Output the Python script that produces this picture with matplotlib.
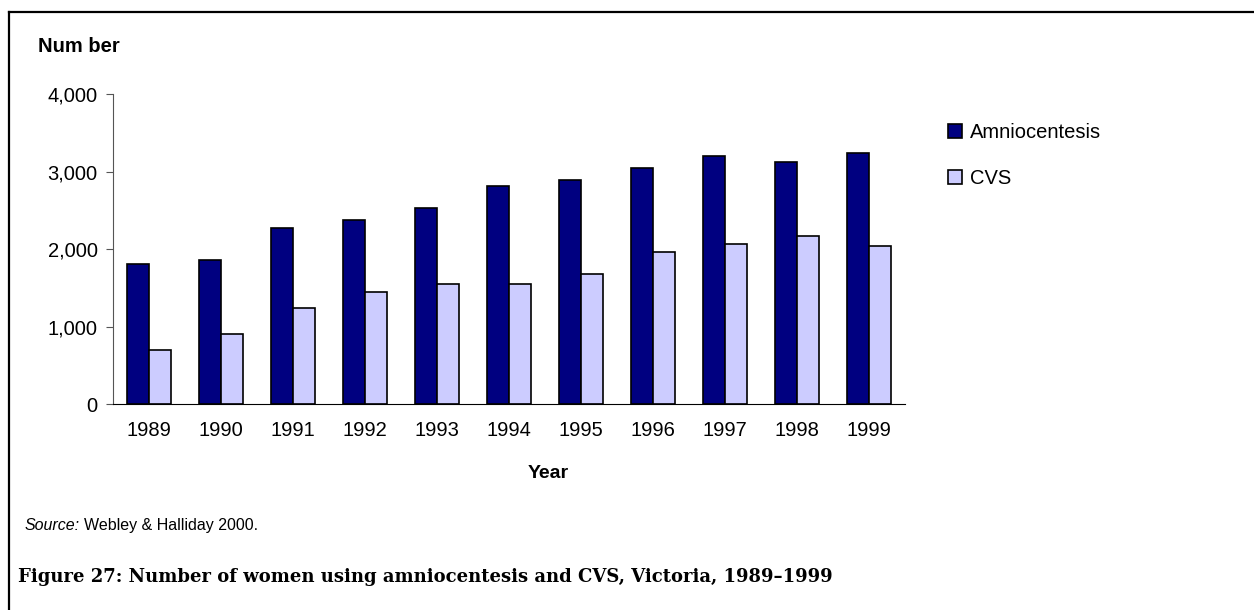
import numpy as np
import matplotlib
matplotlib.use("Agg")
import matplotlib.pyplot as plt
from matplotlib.lines import Line2D

plt.rcParams['font.family'] = ['Liberation Sans', 'DejaVu Sans']

years = ['1989', '1990', '1991', '1992', '1993', '1994',
         '1995', '1996', '1997', '1998', '1999']
amnio = [1810, 1860, 2270, 2375, 2530, 2815, 2890, 3050, 3200, 3125, 3235]
cvs = [700, 905, 1235, 1440, 1550, 1550, 1680, 1960, 2065, 2170, 2040]

fig = plt.figure(figsize=(12.54, 6.10), dpi=100)
ax = fig.add_axes([0.0901, 0.3377, 0.6316, 0.5082])

x = np.arange(len(years))
w = 0.305
ax.bar(x - w / 2, amnio, w, color='#000080', edgecolor='black', lw=1.2,
       label='Amniocentesis')
ax.bar(x + w / 2, cvs, w, color='#ccccff', edgecolor='black', lw=1.2,
       label='CVS')

ax.set_xlim(-0.5, len(years) - 0.5)
ax.set_ylim(0, 4000)
ax.set_yticks([0, 1000, 2000, 3000, 4000])
ax.set_yticklabels(['0', '1,000', '2,000', '3,000', '4,000'])
ax.set_xticks(x)
ax.set_xticklabels(years)
ax.tick_params(axis='x', length=0, pad=12, labelsize=14.5)
ax.tick_params(axis='y', length=5, color='#555555', pad=6, labelsize=14.5)
for s in ['top', 'right']:
    ax.spines[s].set_visible(False)
ax.spines['left'].set_color('#555555')
ax.spines['bottom'].set_color('black')

ax.legend(loc='upper left', bbox_to_anchor=(0.748, 0.815),
          bbox_transform=fig.transFigure, frameon=False, fontsize=14.5,
          handlelength=0.7, handleheight=0.7, handletextpad=0.4,
          labelspacing=1.35, borderpad=0)

fig.text(38 / 1254, 1 - 46 / 610, 'Num ber', fontsize=14.5, fontweight='bold',
         va='center', ha='left')
fig.text(548 / 1254, 1 - 473 / 610, 'Year', fontsize=14, fontweight='bold',
         va='center', ha='center')
fig.text(25 / 1254, 1 - 530 / 610, 'Source:', fontsize=11.5, style='italic',
         va='baseline', ha='left')
fig.text(84 / 1254, 1 - 530 / 610, 'Webley & Halliday 2000.', fontsize=11.5,
         va='baseline', ha='left')
fig.text(18 / 1254, 1 - 577 / 610,
         'Figure 27: Number of women using amniocentesis and CVS, Victoria, 1989\u20131999',
         fontsize=13, fontweight='bold', family=['DejaVu Serif'],
         va='center', ha='left')

# frame: only top and left edges show in the cropped page
fig.add_artist(Line2D([9 / 1254, 9 / 1254], [0, 1 - 12 / 610], color='black',
                      lw=1.6, transform=fig.transFigure))
fig.add_artist(Line2D([9 / 1254, 1], [1 - 12 / 610, 1 - 12 / 610], color='black',
                      lw=1.6, transform=fig.transFigure))

fig.savefig('out.png', dpi=100)
